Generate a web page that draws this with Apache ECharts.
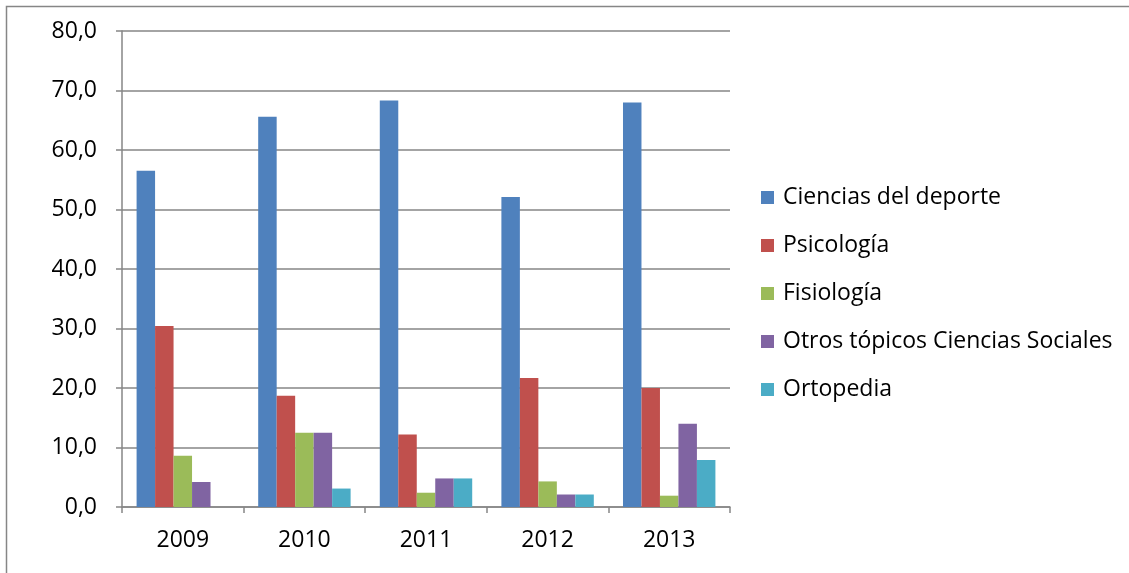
<!DOCTYPE html>
<html>
<head>
<meta charset="utf-8">
<script src="https://cdn.jsdelivr.net/npm/echarts@6/dist/echarts.min.js"></script>
<style>
  html, body { margin: 0; padding: 0; background: #fff; }
  #chart { width: 1129px; height: 573px; }
</style>
</head>
<body>
<div id="chart"></div>
<script>
const years = ["2009", "2010", "2011", "2012", "2013"];
const seriesNames = ["Ciencias del deporte", "Psicología", "Fisiología", "Otros tópicos Ciencias Sociales", "Ortopedia"];
const ciencias = [56.5, 65.6, 68.3, 52.1, 68.0];
const psicologia = [30.4, 18.7, 12.2, 21.7, 20.0];
const fisiologia = [8.6, 12.5, 2.4, 4.3, 1.9];
const otros = [4.2, 12.5, 4.8, 2.1, 14.0];
const ortopedia = [0, 3.1, 4.8, 2.1, 7.9];
const colors = ["#4F81BD", "#C0504D", "#9BBB59", "#8064A2", "#4BACC6"];

const font = "Open Sans";
const gray = "#868686";

const chart = echarts.init(document.getElementById("chart"));
const values = [ciencias, psicologia, fisiologia, otros, ortopedia];

chart.setOption({
  animation: false,
  backgroundColor: "#fff",
  color: colors,
  textStyle: { fontFamily: font },
  graphic: [{
    type: "rect",
    shape: { x: 6.5, y: 6.5, width: 1200, height: 700 },
    style: { fill: "none", stroke: gray, lineWidth: 1.5 },
    silent: true
  }],
  legend: {
    orient: "vertical",
    left: 756,
    top: 181,
    itemWidth: 13,
    itemHeight: 13,
    itemGap: 25,
    icon: "rect",
    textStyle: { fontFamily: font, fontSize: 23, color: "#000", padding: [0, 0, 0, 4] },
    data: seriesNames
  },
  grid: { left: 122, right: 399, top: 31, bottom: 66, containLabel: false },
  xAxis: {
    type: "category",
    data: years,
    axisLine: { lineStyle: { color: gray, width: 1.5 } },
    axisTick: { show: true, alignWithLabel: false, length: 6, lineStyle: { color: gray, width: 1.5 } },
    axisLabel: { color: "#000", fontSize: 23, fontFamily: font, margin: 22 },
    splitLine: { show: false }
  },
  yAxis: {
    type: "value",
    min: 0,
    max: 80,
    interval: 10,
    axisLine: { show: true, lineStyle: { color: gray, width: 1.5 } },
    axisTick: { show: true, length: 6, lineStyle: { color: gray, width: 1.5 } },
    axisLabel: {
      color: "#000", fontSize: 23, fontFamily: font, margin: 25,
      formatter: (v) => v.toFixed(1).replace(".", ",")
    },
    splitLine: { show: true, lineStyle: { color: gray, width: 1.5 } }
  },
  series: seriesNames.map((name, i) => ({
    name,
    type: "bar",
    data: values[i],
    barGap: "0%",
    barCategoryGap: "24%",
    itemStyle: { color: colors[i] }
  }))
});
</script>
</body>
</html>
